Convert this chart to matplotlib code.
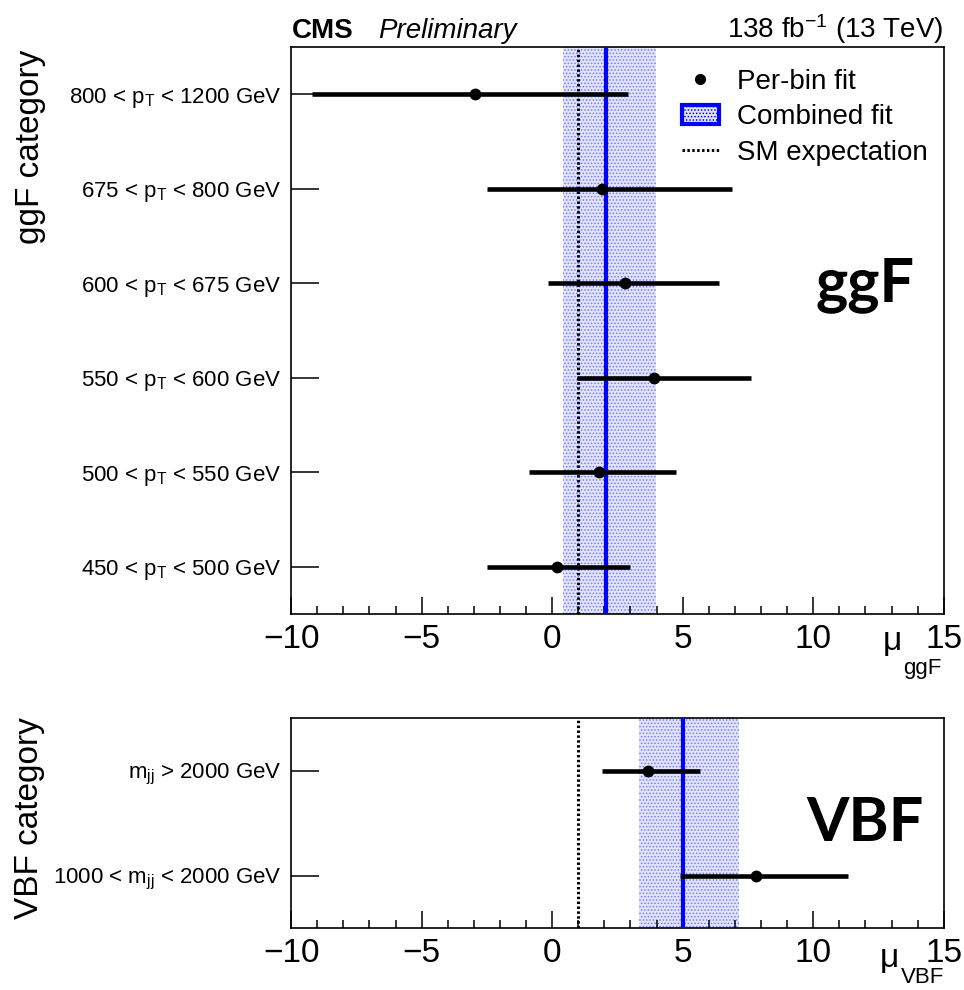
import matplotlib
matplotlib.use("Agg")
import matplotlib.pyplot as plt
from matplotlib.patches import Patch
from matplotlib.lines import Line2D
from matplotlib.ticker import MultipleLocator

plt.rcParams['font.family'] = ['Liberation Sans', 'DejaVu Sans']
plt.rcParams['mathtext.fontset'] = 'custom'
plt.rcParams['mathtext.rm'] = 'Liberation Sans'
plt.rcParams['mathtext.it'] = 'Liberation Sans:italic'
plt.rcParams['hatch.linewidth'] = 0.7

# ggF per-bin fits (bottom to top)
ggf_labels = [r"450 < p$_{\mathrm{T}}$ < 500 GeV", r"500 < p$_{\mathrm{T}}$ < 550 GeV",
              r"550 < p$_{\mathrm{T}}$ < 600 GeV", r"600 < p$_{\mathrm{T}}$ < 675 GeV",
              r"675 < p$_{\mathrm{T}}$ < 800 GeV", r"800 < p$_{\mathrm{T}}$ < 1200 GeV"]
ggf_mu = [0.2, 1.8, 3.9, 2.8, 1.9, -2.95]
ggf_lo = [-2.5, -0.9, 0.95, -0.15, -2.5, -9.2]
ggf_hi = [3.0, 4.75, 7.6, 6.4, 6.9, 2.9]
ggf_comb = 2.05
ggf_band = (0.42, 3.98)

# VBF per-bin fits (bottom to top)
vbf_labels = [r"1000 < m$_{\mathrm{jj}}$ < 2000 GeV", r"m$_{\mathrm{jj}}$ > 2000 GeV"]
vbf_mu = [7.8, 3.67]
vbf_lo = [4.9, 1.9]
vbf_hi = [11.33, 5.67]
vbf_comb = 5.0
vbf_band = (3.33, 7.16)

sm_value = 1.0
band_face = '#e0e4fc'
band_hatch = '#7a7aff'


def draw_panel(ax, labels, mu, lo, hi, comb, band):
    y = list(range(len(labels)))
    ax.axvspan(band[0], band[1], facecolor=band_face, edgecolor=band_hatch,
               hatch='.....', linewidth=0, zorder=1)
    ax.axvline(sm_value, color='black', lw=2.2, ls=(0, (0.8, 0.8)), zorder=2)
    ax.axvline(comb, color='#0000ff', lw=3, zorder=3)
    xerr = [[m - l for m, l in zip(mu, lo)], [h - m for m, h in zip(mu, hi)]]
    ax.errorbar(mu, y, xerr=xerr, fmt='o', color='black', ms=7.5, elinewidth=3.3,
                capsize=0, zorder=4)

    ax.set_xlim(-10, 15)
    ax.set_ylim(-0.5, len(labels) - 0.5)
    ax.set_yticks(y)
    ax.set_yticklabels(labels, fontsize=16)
    ax.xaxis.set_major_locator(MultipleLocator(5))
    ax.xaxis.set_minor_locator(MultipleLocator(1))
    ax.tick_params(axis='x', which='major', direction='in', length=12, width=1.1,
                   labelsize=24, pad=7, top=False)
    ax.tick_params(axis='x', which='minor', direction='in', length=6, width=1.1, top=False)
    ax.tick_params(axis='y', which='major', direction='in', length=20, width=1.1,
                   pad=7, right=False)
    ax.tick_params(axis='y', which='minor', left=False, right=False)
    for s in ax.spines.values():
        s.set_linewidth(1.2)


fig = plt.figure(figsize=(9.64, 9.9), dpi=100)
ax1 = fig.add_axes([0.302, 0.380, 0.677, 0.5725])
ax2 = fig.add_axes([0.302, 0.0626, 0.677, 0.2121])

draw_panel(ax1, ggf_labels, ggf_mu, ggf_lo, ggf_hi, ggf_comb, ggf_band)
draw_panel(ax2, vbf_labels, vbf_mu, vbf_lo, vbf_hi, vbf_comb, vbf_band)

# axis titles
fig.text(0.032, 0.8515, 'ggF category', rotation=90, ha='center', va='center', fontsize=24)
fig.text(0.031, 0.1737, 'VBF category', rotation=90, ha='center', va='center', fontsize=24)
# ROOT-style mu with a dropped subscript
fig.text(0.916, 0.3434, 'μ', fontsize=24, ha='left', va='baseline')
fig.text(0.937, 0.3192, 'ggF', fontsize=16, ha='left', va='baseline')
fig.text(0.913, 0.0232, 'μ', fontsize=24, ha='left', va='baseline')
fig.text(0.935, 0.0071, 'VBF', fontsize=16, ha='left', va='baseline')

# production mode tags
ax1.text(0.88, 0.58, 'ggF', transform=ax1.transAxes, ha='center', va='center',
         fontsize=44, fontweight='bold', family=['Lato', 'DejaVu Sans'])
ax2.text(0.88, 0.5, 'VBF', transform=ax2.transAxes, ha='center', va='center',
         fontsize=44, fontweight='bold', family=['Lato', 'DejaVu Sans'])

handles = [
    Line2D([], [], color='black', marker='o', ls='none', ms=7),
    Patch(facecolor=band_face, edgecolor='#0000ff', hatch='.....', linewidth=3),
    Line2D([], [], color='black', lw=2.2, ls=(0, (0.8, 0.8))),
]
ax1.legend(handles, ['Per-bin fit', 'Combined fit', 'SM expectation'], loc='upper right',
           bbox_to_anchor=(1.014, 1.005), frameon=False, fontsize=20,
           handlelength=1.35, handletextpad=0.65, labelspacing=0.33)

fig.text(0.303, 0.962, 'CMS', fontsize=20, fontweight='bold', ha='left', va='baseline')
fig.text(0.392, 0.962, 'Preliminary', fontsize=20, fontstyle='italic', ha='left', va='baseline')
fig.text(0.979, 0.962, r"138 fb$^{-1}$ (13 TeV)", fontsize=20, ha='right', va='baseline')

fig.savefig('out.png', dpi=100)
